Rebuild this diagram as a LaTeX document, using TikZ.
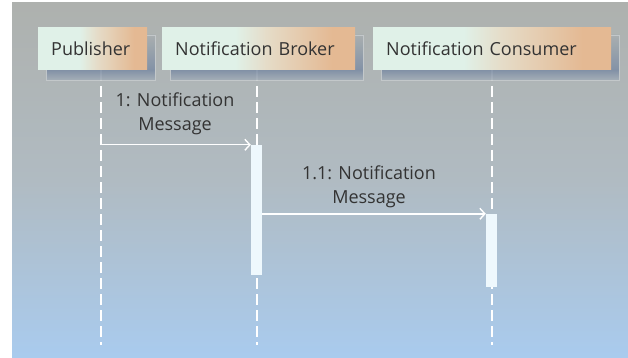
\documentclass[tikz,border=0pt]{standalone}
\usepackage{fontspec}
\setmainfont{Open Sans}
\usetikzlibrary{arrows.meta}

\definecolor{bgtop}{HTML}{AEB1AE}
\definecolor{bgmid}{HTML}{B0BBC2}
\definecolor{bgbot}{HTML}{A9CBEE}
\definecolor{boxmint}{HTML}{E0F1E8}
\definecolor{boxbeige}{HTML}{E5DCC8}
\definecolor{boxtan}{HTML}{E4B993}
\definecolor{shtop}{HTML}{A9AFB0}
\definecolor{shdark}{HTML}{7E8EA5}
\definecolor{shbot}{HTML}{A4AEB7}
\definecolor{shedge}{HTML}{C6CBCD}
\definecolor{barfill}{HTML}{EEF8FD}
\definecolor{inkgrey}{HTML}{333333}

% background, header and shadow gradients (stops between 25bp and 75bp span the path)
\pgfdeclareverticalshading{bgshade}{100bp}{color(0bp)=(bgbot); color(25bp)=(bgbot); color(50bp)=(bgmid); color(75bp)=(bgtop); color(100bp)=(bgtop)}
\pgfdeclarehorizontalshading{boxshade}{100bp}{color(0bp)=(boxmint); color(25bp)=(boxmint); color(44bp)=(boxmint); color(52bp)=(boxbeige); color(69bp)=(boxtan); color(100bp)=(boxtan)}
\pgfdeclareverticalshading{shadowshade}{100bp}{color(0bp)=(shbot); color(25bp)=(shbot); color(36bp)=(shdark); color(75bp)=(shtop); color(100bp)=(shtop)}

\tikzset{
  every node/.style={font=\fontsize{18}{24}\selectfont, text=inkgrey},
  actor/.style={shading=boxshade, minimum height=42pt, inner xsep=13pt,
    inner ysep=0pt, align=left, anchor=west},
  boxshadow/.style={shading=shadowshade, draw=shedge, line width=0.7pt},
  lifeline/.style={draw=white, line width=1.8pt, dash pattern=on 11pt off 5pt},
  actbar/.style={fill=barfill, minimum width=11pt, inner sep=0pt},
  msg/.style={draw=white, line width=1.4pt, -{Straight Barb[length=5pt,width=11pt]}},
  msglabel/.style={align=center, inner sep=0pt}
}

\begin{document}
\begin{tikzpicture}[x=1pt,y=-1pt]
\useasboundingbox (0,0) rectangle (628,358);
\path[shading=bgshade] (12,3) rectangle (628,358);

% lifeline ends
\coordinate (pubtop) at (101,70);
\coordinate (pubend) at (101,345);
\coordinate (brktop) at (257,70);
\coordinate (brkend) at (257,345);
\coordinate (contop) at (492,70);
\coordinate (conend) at (492,345);

\draw[lifeline] (pubtop) -- (pubend);
\draw[lifeline] (brktop) -- (brkend);
\draw[lifeline] (contop) -- (conend);

% drop shadows behind the headers
\path[boxshadow, opacity=0.9] (46,35) rectangle (155,80);
\path[boxshadow, opacity=0.9] (170,35) rectangle (363,80);
\path[boxshadow, opacity=0.9] (381,35) rectangle (619,80);

% participant headers
\node[actor, minimum width=109pt, text width=83pt] (pub) at (38,49) {Publisher};
\node[actor, minimum width=193pt, text width=167pt] (brk) at (162,49) {Notification Broker};
\node[actor, minimum width=238pt, text width=212pt] (con) at (373,49) {Notification Consumer};

% activation bars
\node[actbar, minimum height=130pt] (brkact) at (256.5,210) {};
\node[actbar, minimum height=73pt] (conact) at (491.5,250.5) {};

% messages
\draw[msg] (pubtop |- brkact.north) -- (brkact.north west);
\draw[msg] (brkact.east |- conact.north) -- (conact.north west);

\node[msglabel] (lbl1) at (175,114) {1: Notification\\Message};
\node[msglabel] (lbl2) at (369,187) {1.1: Notification\\Message};
\end{tikzpicture}
\end{document}
